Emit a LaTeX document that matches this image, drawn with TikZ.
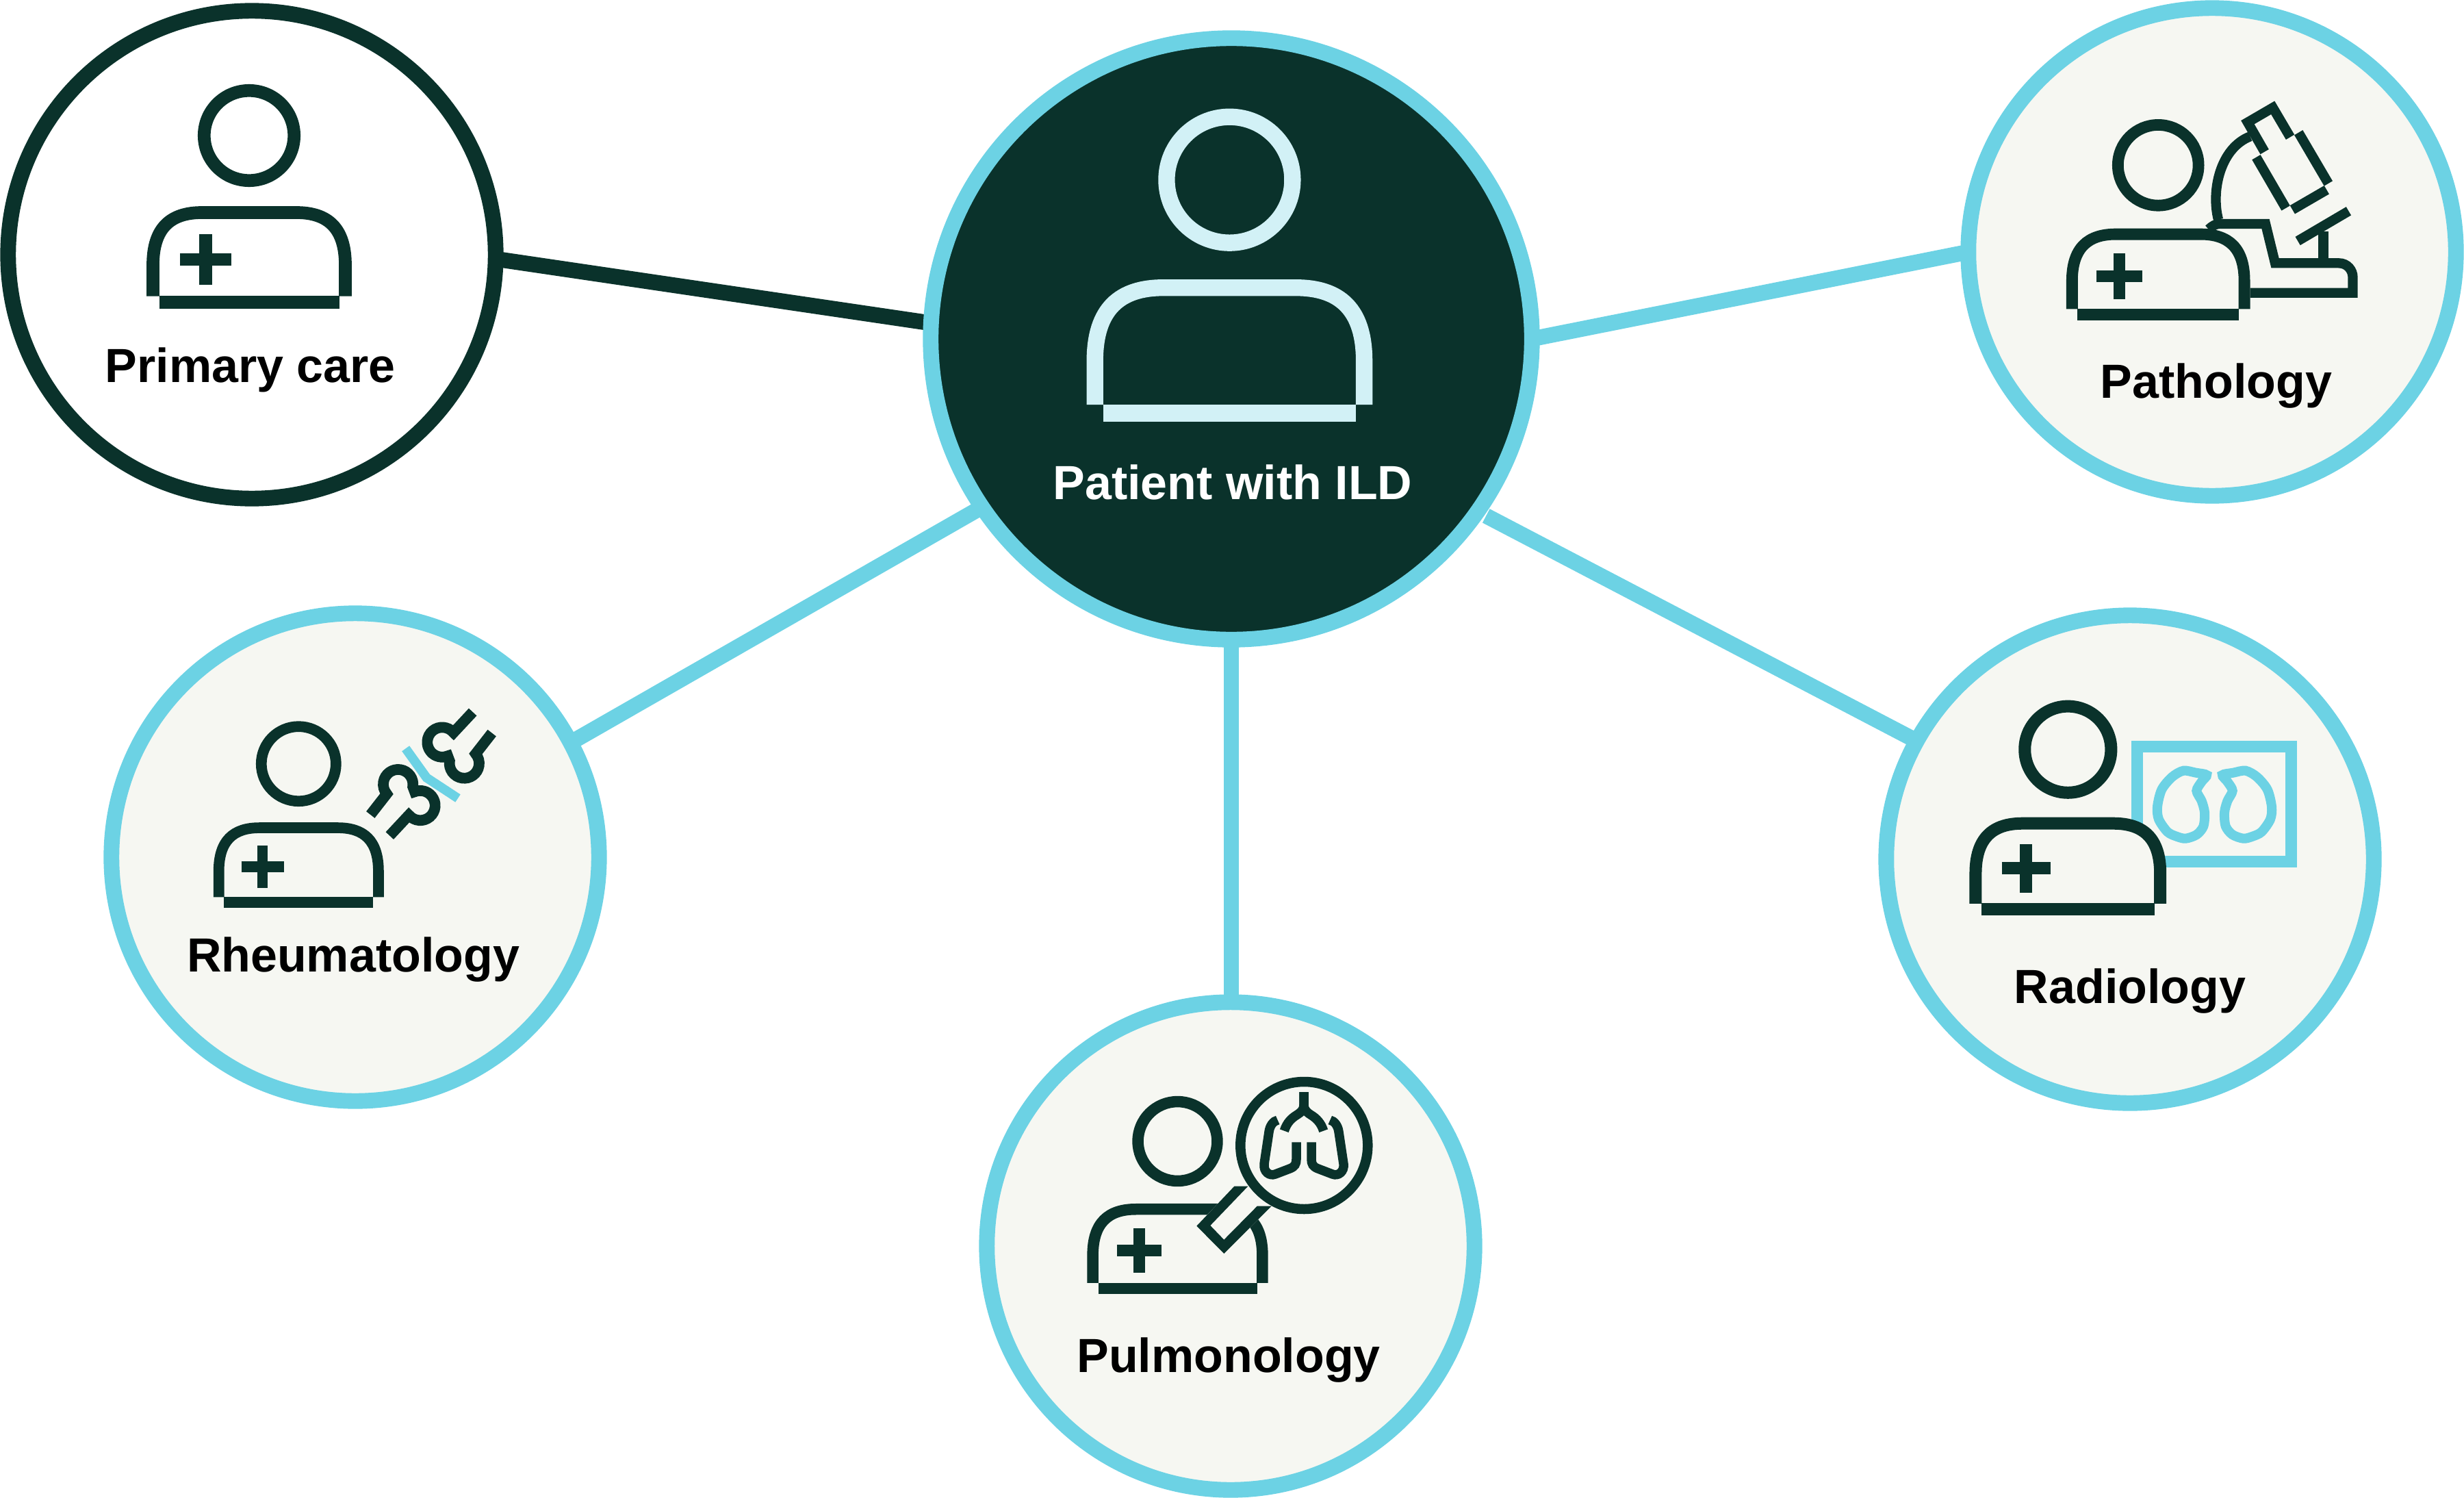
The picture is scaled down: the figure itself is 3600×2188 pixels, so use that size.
\documentclass[tikz,border=0pt]{standalone}
\usepackage{fontspec}
\setmainfont{Liberation Sans}
\usetikzlibrary{backgrounds}
\definecolor{pine}{RGB}{10,50,43}
\definecolor{skyring}{RGB}{108,210,228}
\definecolor{icefig}{RGB}{210,241,246}
\definecolor{paper}{RGB}{246,247,242}

\tikzset{
    pics/patientfig/.style={code={
        \draw (0,0) circle[radius=65.7];
        \filldraw (-140.5,-234.5) -- (-140.5,-189) .. controls (-140.5,-135) and (-115,-112.5) .. (-69,-112.5)
            -- (69,-112.5) .. controls (115,-112.5) and (140.5,-135) .. (140.5,-189) -- (140.5,-234.5);
        \draw (-131.5,-243.5) -- (131.5,-243.5);
    }},
    pics/doctorfig/.style={code={
        \pic[transform shape] {patientfig};
        \draw (-100.8,-181) -- (-26.2,-181);
        \draw (-63.5,-144) -- (-63.5,-218);
    }},
    pics/bonepiece/.style={code={
        \draw[miter limit=20] (60.7,90.3) -- (32.6,60.2) arc[start angle=40,end angle=292,radius=21.7] -- (26.9,18.7)
            arc[start angle=171,end angle=400,radius=21.7] -- (88.7,59.7);
    }},
    pics/lunghalf/.style={code={
        \draw (0,55) -- (0,36.7) .. controls (0,28.3) and (-5,25) .. (-10,21.7) .. controls (-18.3,16.7) and (-25,10) .. (-28.7,-1.7);
        \draw (-38.3,14) .. controls (-45,12.7) and (-50,5) .. (-51,-3.3) -- (-58,-50) .. controls (-59.3,-61.7) and (-50,-68.3) .. (-41.7,-65)
            -- (-20,-56.7) .. controls (-13.3,-54) and (-11,-50) .. (-11,-43.3) -- (-11,-18.3);
    }},
    pics/filmlobe/.style={code={
        \draw plot[smooth cycle] coordinates {(-45.5,44.3) (-27.2,41.3) (-11.5,38) (-18.8,28.3) (-26.2,15) (-18.8,0) (-14.5,-16.7)
            (-16.2,-36.7) (-26,-49) (-42.2,-54.7) (-55.5,-51.7) (-68.8,-45) (-81.5,-26.7) (-83.5,-8.3) (-77.2,16.7) (-62.2,35)};
    }}
}

\begin{document}
\begin{tikzpicture}[
    x=0.01cm, y=0.01cm,
    ring/.style={circle, draw=skyring, fill=paper, line width=6.5pt, minimum size=7.12cm, inner sep=0pt, outer sep=0pt},
    hubring/.style={ring, fill=pine, minimum size=8.78cm},
    carering/.style={ring, draw=pine, fill=white},
    spoke/.style={draw=skyring, line width=6.5pt},
    ink/.style={draw=pine, fill=paper, line width=#1*0.01cm},
    tag/.style={anchor=base, inner sep=0pt, font=\fontsize{19.9}{24}\selectfont\bfseries}
]
    \useasboundingbox (0,0) rectangle (3600,-2188);

    % Circles
    \node[hubring] (hub) at (1799,-495) {};
    \node[carering] (care) at (368,-372) {};
    \node[ring] (pathology) at (3232,-368) {};
    \node[ring] (rheuma) at (519,-1252) {};
    \node[ring] (pulmo) at (1798,-1820) {};
    \node[ring] (radio) at (3112,-1255) {};

    % Spokes behind the circles
    \begin{scope}[on background layer]
        \draw[spoke, draw=pine] (hub.177.3) -- (care.359.5);
        \draw[spoke] (hub.0.5) -- (pathology.180.3);
        \draw[spoke] (hub.214) -- (rheuma.28.3);
        \draw[spoke] (hub.south) -- (hub.south |- pulmo.north);
        \draw[spoke, shorten <=0.14cm] (hub.325.7) -- (radio.151.4);
    \end{scope}

    % Labels
    \node[tag, text=white] (hubtag) at (1801,-729) {Patient with ILD};
    \node[tag] (caretag) at (366,-558) {Primary care};
    \node[tag] (pathologytag) at (3238,-581) {Pathology};
    \node[tag] (rheumatag) at (516,-1419) {Rheumatology};
    \node[tag] (pulmotag) at (1795,-2004) {Pulmonology};
    \node[tag] (radiotag) at (3112,-1465) {Radiology};

    % Hub and primary care figures
    \pic[scale=1.4, draw=icefig, fill=pine, line width=24.3*0.01cm] at (1796.4,-262.7) {patientfig};
    \pic[scale=1, ink=18.7, fill=white] at (364,-198) {doctorfig};

    % Microscope
    \begin{scope}[draw=pine, line width=14.3*0.01cm]
        \draw (3308.6,-221.7) -- (3283.9,-178.7) -- (3320.7,-157.3) -- (3346,-200.3);
        \draw (3296.4,-229.7) -- (3339.6,-304);
        \draw (3358.2,-193.7) -- (3401.8,-268);
        \draw (3349.3,-306.3) -- (3399.3,-277.3);
        \draw (3241,-320.7) .. controls (3230.4,-280) and (3242.9,-216.7) .. (3287.5,-199.3);
        \draw (3226.8,-335) .. controls (3232,-330) and (3237,-327) .. (3242.9,-327) -- (3310,-327) -- (3324,-384.3) -- (3416.8,-384.3)
            .. controls (3430,-384.3) and (3437.5,-395) .. (3437.5,-405) -- (3437.5,-427.7) -- (3287.5,-427.7);
        \draw (3357.1,-352) -- (3431.4,-308.3);
        \draw (3394.6,-338.3) -- (3394.6,-378.3);
    \end{scope}
    \pic[scale=.896, ink=16.8] at (3153.2,-241.3) {doctorfig};

    % Bones
    \draw[draw=skyring, line width=13.5*0.01cm] (592.7,-1093.3) -- (623.3,-1136) -- (669,-1166);
    \pic[ink=15.7] at (630,-1130.3) {bonepiece};
    \pic[ink=15.7, rotate=180] at (630,-1130.3) {bonepiece};
    \pic[scale=.83, ink=15.7] at (436.3,-1115.7) {doctorfig};

    % Lung film
    \draw[draw=skyring, line width=17*0.01cm] (3122.7,-1090.7) rectangle (3347.7,-1258);
    \pic[draw=skyring, line width=14*0.01cm] at (3235.5,-1170) {filmlobe};
    \pic[draw=skyring, line width=14*0.01cm, xscale=-1] at (3235.5,-1170) {filmlobe};
    \pic[scale=.96, ink=18] at (3021.3,-1094.7) {doctorfig};

    % Magnifier over the doctor
    \pic[scale=.882, ink=16.5] at (1720.5,-1667) {doctorfig};
    \fill[paper] (1803.3,-1732.7) -- (1857.7,-1761.7) -- (1788.3,-1831) -- (1748.3,-1790.7) -- cycle;
    \fill[pine] (1803.3,-1732.7) -- (1823.3,-1732.7) -- (1768.3,-1790) -- (1788.3,-1810.7) -- (1836.7,-1761.7) -- (1857.7,-1761.7)
        -- (1788.3,-1831) -- (1748.3,-1790.7) -- cycle;
    \filldraw[ink=14.5] (1905.3,-1673) circle[radius=93];
    \pic[draw=pine, line width=13.5*0.01cm] at (1905,-1650) {lunghalf};
    \pic[draw=pine, line width=13.5*0.01cm, xscale=-1] at (1905,-1650) {lunghalf};
\end{tikzpicture}
\end{document}
